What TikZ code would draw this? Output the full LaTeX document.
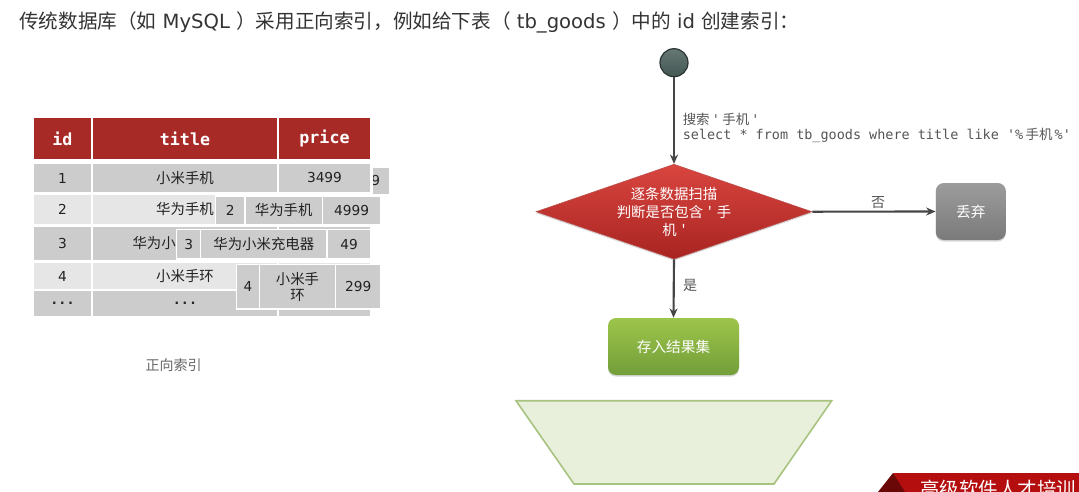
\documentclass[tikz,border=0pt]{standalone}
\usepackage{fontspec}
\setmainfont{DejaVu Sans}
\newfontfamily\cjk[Ligatures=TeXOff]{Noto Sans CJK SC}
\newfontfamily\monofont[Ligatures=TeXOff]{DejaVu Sans Mono}
\usetikzlibrary{arrows.meta,shapes.geometric,shadows}
\definecolor{hdr}{HTML}{A82A27}
\definecolor{rowA}{HTML}{CCCCCC}
\definecolor{rowB}{HTML}{E6E6E6}
\definecolor{txt}{HTML}{222222}
\definecolor{titletxt}{HTML}{333333}
\definecolor{lbl}{HTML}{555555}
\definecolor{edge}{HTML}{454545}
\definecolor{startfill}{HTML}{4A605C}
\definecolor{startline}{HTML}{2A3533}
\definecolor{diatop}{HTML}{D9453F}
\definecolor{diabot}{HTML}{A82421}
\definecolor{graytop}{HTML}{9C9C9C}
\definecolor{graybot}{HTML}{7A7A7A}
\definecolor{greentop}{HTML}{9DC54B}
\definecolor{greenbot}{HTML}{739E39}
\definecolor{trapfill}{HTML}{E8F0DB}
\definecolor{trapline}{HTML}{A8C280}
\definecolor{bannerred}{HTML}{B40E0E}
\definecolor{bannerdark}{HTML}{6A0808}
\newcommand{\tc}[8]{\node[cell,fill=#7,minimum width=#4*0.75pt,minimum height=#5*0.75pt,#8] (#1) at (#2,#3) {#6};}
\newcommand{\zh}[1]{{\cjk\fontsize{10.8}{12}\selectfont #1}}
\begin{document}
\begin{tikzpicture}[x=0.75pt,y=-0.75pt,
  cell/.style={draw=white, line width=0.9pt, inner sep=0pt, text=txt, font=\fontsize{10.3}{12}\selectfont, align=center},
  hcell/.style={text=white, font=\monofont\bfseries\fontsize{12.5}{14}\selectfont},
  dots/.style={font=\monofont\bfseries\fontsize{10}{12}\selectfont},
  arr/.style={draw=edge, line width=1.6pt, -{Stealth[length=7pt,width=6pt]}},
  lab/.style={text=lbl, font=\cjk\fontsize{10.5}{12}\selectfont, inner sep=1pt},
  shad/.style={drop shadow={shadow xshift=0pt, shadow yshift=-1.2pt, opacity=0.3}},
  box/.style={rounded corners=6pt, inner sep=0pt, text=white, font=\cjk\fontsize{11}{13}\selectfont, shad}
]
\useasboundingbox (0,0) rectangle (1079,492);
\clip (0,0) rectangle (1079,492);

% title
\node[anchor=west, text=titletxt, font=\fontsize{14.7}{17}\selectfont, inner sep=0pt] (title) at (19,22)
  {{\cjk 传统数据库（如} MySQL {\cjk ）采用正向索引，例如给下表（} tb\_goods {\cjk ）中的} id {\cjk 创建索引：}};

% table header
\tc{hid}{62.5}{138.5}{59}{43}{id}{hdr}{hcell}
\tc{htitle}{185}{138.5}{186}{43}{title}{hdr}{hcell}
\tc{hprice}{324.5}{138.5}{93}{43}{price}{hdr}{hcell}
% rows
\tc{a1}{62.5}{178}{59}{30}{1}{rowA}{}
\tc{b1}{185}{178}{186}{30}{\zh{小米手机}}{rowA}{}
\tc{c1}{324.5}{178}{93}{30}{3499}{rowA}{}
\tc{a2}{62.5}{209.5}{59}{31}{2}{rowB}{}
\tc{b2}{185}{209.5}{186}{31}{\zh{华为手机}}{rowB}{}
\tc{c2}{324.5}{209.5}{93}{31}{}{rowB}{}
\tc{a3}{62.5}{243.5}{59}{34.5}{3}{rowA}{}
\tc{b3}{185}{243.5}{186}{34.5}{}{rowA}{}
\node[text=txt, inner sep=0pt, anchor=east] (b3t) at (176,243.5) {\zh{华为小}};
\tc{c3}{324.5}{243.5}{93}{34.5}{}{rowA}{}
\tc{a4}{62.5}{276}{59}{28}{4}{rowB}{}
\tc{b4}{185}{276}{186}{28}{\zh{小米手环}}{rowB}{}
\tc{c4}{324.5}{276}{93}{28}{}{rowB}{}
\tc{a5}{62.5}{303.5}{59}{27}{...}{rowA}{dots}
\tc{b5}{185}{303.5}{186}{27}{...}{rowA}{dots}
\tc{c5}{324.5}{303.5}{93}{27}{}{rowA}{}

% shifted copies
\tc{o1}{381.3}{181}{17.3}{28}{}{rowA}{}
\begin{scope}
  \clip (373,167) rectangle (390,195);
  \node[text=txt, font=\fontsize{10.3}{12}\selectfont, anchor=east, inner sep=0pt] (o1t) at (380.5,181) {3499};
\end{scope}
\tc{o2a}{230.3}{210.5}{29.3}{29}{2}{rowA}{}
\tc{o2b}{283.7}{210.5}{77.3}{29}{\zh{华为手机}}{rowA}{}
\tc{o2c}{351.7}{210.5}{58.7}{29}{4999}{rowA}{}
\tc{o3a}{188.7}{244.2}{24}{29.7}{3}{rowA}{}
\tc{o3b}{263.8}{244.2}{126.3}{29.7}{\zh{华为小米充电器}}{rowA}{}
\tc{o3c}{349}{244.2}{44}{29.7}{49}{rowA}{}
\tc{o4a}{248}{286.7}{22.6}{44.7}{4}{rowA}{}
\tc{o4b}{297.5}{286.7}{76.4}{44.7}{\cjk\fontsize{10.8}{11}\selectfont 小米手\\\cjk\fontsize{10.8}{11}\selectfont 环}{rowA}{}
\tc{o4c}{358.3}{286.7}{45.3}{44.7}{299}{rowA}{}

\node[text=black!60, font=\cjk\fontsize{10.5}{12}\selectfont] (caption) at (173.5,365) {正向索引};

% flowchart
\node[circle, minimum size=21pt, inner sep=0pt, top color=startfill!85!white, bottom color=startfill!90!black, draw=startline, line width=0.9pt] (start) at (674,62.7) {};
\node[diamond, minimum width=276*0.75pt, minimum height=95*0.75pt, inner sep=0pt, top color=diatop, bottom color=diabot, draw=diabot!80!white, line width=0.4pt, shad] (dia) at (674,211.7) {};
\node[text=white, align=center, font=\cjk\fontsize{10.8}{13.5}\selectfont] (diat) at (674,212.3) {逐条数据扫描\\判断是否包含\,\,'\,\,手\\机\,\,'};
\node[box, minimum width=70*0.75pt, minimum height=57*0.75pt, top color=graytop, bottom color=graybot] (discard) at (970.8,211.5) {丢弃};
\node[box, minimum width=131*0.75pt, minimum height=57*0.75pt, top color=greentop, bottom color=greenbot] (store) at (673.5,346.5) {存入结果集};

\draw[arr] (start.south) -- (dia.north);
\draw[arr] (dia.east) -- (discard.west);
\draw[arr] (dia.south) -- (store.north);

\node[anchor=west, text=lbl, font=\monofont\fontsize{10.1}{12}\selectfont, inner sep=0pt] (q1) at (682.5,119) {{\cjk 搜索}\,'\,{\cjk 手机}\,'};
\node[anchor=west, text=lbl, font=\monofont\fontsize{10.1}{12}\selectfont, inner sep=0pt] (q2) at (682.5,135) {select * from tb\_goods where title like '\%\,{\cjk 手机}\,\%'};
\node[lab] (no) at (878,203) {否};
\node[lab] (yes) at (690,285) {是};

% result set (trapezoid)
\draw[fill=trapfill, draw=trapline, line width=1.2pt] (516,400.7) -- (831.7,400.7) -- (774,484) -- (574,484) -- cycle;

% banner
\fill[bannerred] (893,473) -- (1079,473) -- (1079,492) -- (903,492) -- cycle;
\fill[bannerdark] (878,492) -- (893,473) -- (905,492) -- cycle;
\node[anchor=west, text=white, font=\cjk\fontsize{14.6}{16}\selectfont, inner sep=0pt] (banner) at (920,489) {高级软件人才培训};
\end{tikzpicture}
\end{document}
